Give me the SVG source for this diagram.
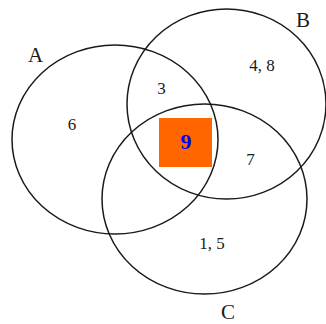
<svg xmlns="http://www.w3.org/2000/svg" width="326" height="324" viewBox="0 0 326 324">
<style>
.c{fill:none;stroke:#1a1a1a;stroke-width:1.5}
.l{font-family:"Liberation Serif",serif;font-size:21px;fill:#1a1a1a}
.n{font-family:"Liberation Serif",serif;font-size:17px;fill:#1a1a1a}
</style>
<rect width="326" height="324" fill="#fff"/>
<g id="highlight">
<rect x="159" y="118" width="53" height="49" fill="#ff6600"/>
<text x="186" y="149" text-anchor="middle" font-family="Liberation Serif,serif" font-size="22" font-weight="bold" fill="#0000ff">9</text>
</g>
<g id="setA">
<ellipse class="c" cx="115" cy="139.5" rx="103" ry="94.5"/>
<text class="l" x="28" y="62">A</text>
</g>
<g id="setB">
<ellipse class="c" cx="226.5" cy="104" rx="99.5" ry="95"/>
<text class="l" x="296" y="27">B</text>
</g>
<g id="setC">
<ellipse class="c" cx="204.5" cy="199" rx="102.5" ry="95"/>
<text class="l" x="221" y="319">C</text>
</g>
<g id="regions">
<text class="n" x="72" y="130" text-anchor="middle">6</text>
<text class="n" x="161.5" y="94" text-anchor="middle">3</text>
<text class="n" x="262" y="71" text-anchor="middle">4, 8</text>
<text class="n" x="250.5" y="165" text-anchor="middle">7</text>
<text class="n" x="212" y="249" text-anchor="middle">1, 5</text>
</g>
</svg>
